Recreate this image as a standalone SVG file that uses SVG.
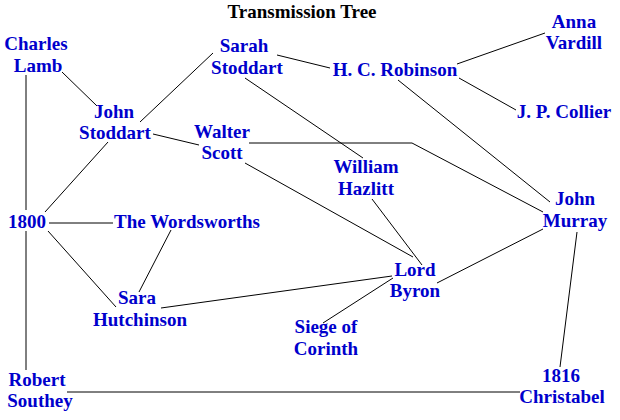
<svg xmlns="http://www.w3.org/2000/svg" width="620" height="420" viewBox="0 0 620 420">
<style>
text{font-family:"Liberation Serif","Times New Roman",serif;font-weight:bold;font-size:19px;text-anchor:middle}
.n text{fill:#0000cc}
.t{fill:#000}
#edges line,#edges polyline{stroke:#000;stroke-width:1;fill:none}
</style>
<rect width="620" height="420" fill="#fff"/>
<text class="t" x="302" y="18">Transmission Tree</text>
<g id="edges">
<line x1="26" y1="75" x2="26" y2="210"/>
<line x1="26" y1="231" x2="26" y2="370"/>
<line x1="62" y1="72" x2="97" y2="106"/>
<line x1="140" y1="122" x2="213" y2="53"/>
<line x1="153" y1="134" x2="199" y2="145"/>
<line x1="108" y1="142" x2="45" y2="212"/>
<line x1="277" y1="55" x2="330" y2="68"/>
<line x1="245" y1="78" x2="363" y2="158"/>
<polyline points="249,143 412,143 543,212"/>
<line x1="245" y1="163" x2="413" y2="257"/>
<line x1="457" y1="64" x2="545" y2="33"/>
<line x1="459" y1="78" x2="516" y2="110"/>
<line x1="398" y1="80" x2="550" y2="202"/>
<line x1="372" y1="199" x2="422" y2="265"/>
<line x1="49" y1="223" x2="113" y2="223"/>
<line x1="48" y1="231" x2="116" y2="307"/>
<line x1="171" y1="230" x2="139" y2="292"/>
<line x1="161" y1="308" x2="392" y2="276"/>
<line x1="393" y1="278" x2="323" y2="323"/>
<line x1="437" y1="283" x2="543" y2="229"/>
<line x1="577" y1="232" x2="560" y2="367"/>
<line x1="67" y1="392" x2="520" y2="392"/>
</g>
<g class="n" id="charles-lamb"><text x="36" y="50">Charles</text><text x="38" y="72">Lamb</text></g>
<g class="n" id="john-stoddart"><text x="114" y="118">John</text><text x="115" y="139">Stoddart</text></g>
<g class="n" id="sarah-stoddart"><text x="244" y="52">Sarah</text><text x="247" y="74">Stoddart</text></g>
<g class="n" id="walter-scott"><text x="222" y="138">Walter</text><text x="222" y="159">Scott</text></g>
<g class="n" id="hc-robinson"><text x="395" y="76">H. C. Robinson</text></g>
<g class="n" id="anna-vardill"><text x="574" y="28">Anna</text><text x="574" y="49">Vardill</text></g>
<g class="n" id="jp-collier"><text x="564" y="118">J. P. Collier</text></g>
<g class="n" id="william-hazlitt"><text x="366" y="173">William</text><text x="366" y="195">Hazlitt</text></g>
<g class="n" id="john-murray"><text x="575" y="205">John</text><text x="575" y="227">Murray</text></g>
<g class="n" id="n1800"><text x="27" y="228">1800</text></g>
<g class="n" id="wordsworths"><text x="187" y="228">The Wordsworths</text></g>
<g class="n" id="sara-hutchinson"><text x="137" y="304">Sara</text><text x="140" y="326">Hutchinson</text></g>
<g class="n" id="siege-of-corinth"><text x="326" y="333">Siege of</text><text x="326" y="355">Corinth</text></g>
<g class="n" id="lord-byron"><text x="415" y="276">Lord</text><text x="415" y="297">Byron</text></g>
<g class="n" id="robert-southey"><text x="37" y="386">Robert</text><text x="40" y="407">Southey</text></g>
<g class="n" id="christabel"><text x="561" y="382">1816</text><text x="562" y="403">Christabel</text></g>
</svg>
